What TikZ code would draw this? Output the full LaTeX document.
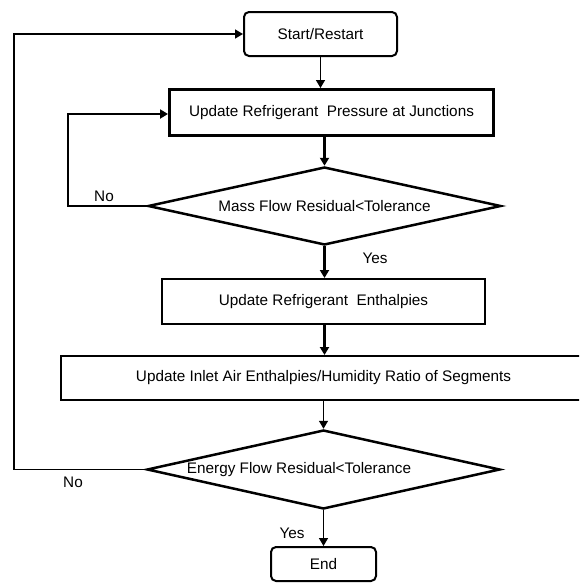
\documentclass[tikz,border=0pt]{standalone}
\usepackage{fontspec}
\setmainfont{Liberation Sans}
\usetikzlibrary{shapes.geometric,arrows.meta}
\tikzset{
  base/.style={draw, inner sep=0pt, align=center, font=\fontsize{15.3}{18}\selectfont},
  term/.style={base, rectangle, rounded corners=5pt, line width=2pt},
  procbox/.style={base, rectangle, line width=2pt},
  decision/.style={base, diamond, aspect=4.5, line width=2.5pt},
  lbl/.style={inner sep=0pt, font=\fontsize{15.3}{18}\selectfont},
  arr/.style={-{Triangle[length=8pt,width=9pt]}},
  thinline/.style={line width=1.5pt},
  thickline/.style={line width=2.8pt},
}
\begin{document}
\begin{tikzpicture}[x=1pt,y=-1pt]
\path[use as bounding box, clip] (0,0) rectangle (579,584);
\fill[white] (0,0) rectangle (579,584);

\node[term, minimum width=153pt, minimum height=44pt] (start) at (320.5,34) {Start/Restart};
\node[procbox, line width=3pt, minimum width=324pt, minimum height=46pt] (press) at (331.5,112.5) {Update Refrigerant\ \ Pressure at Junctions};
\node[decision, minimum width=353pt, minimum height=78pt] (d1) at (324.5,206) {Mass Flow Residual<Tolerance};
\node[procbox, minimum width=323pt, minimum height=45pt] (enth) at (323.5,301.5) {Update Refrigerant\ \ Enthalpies};
\node[procbox, minimum width=525pt, minimum height=44pt] (air) at (323.5,378) {Update Inlet Air Enthalpies/Humidity Ratio of Segments};
\node[decision, minimum width=353pt, minimum height=79pt] (d2) at (323.5,469.5) {};
\node[lbl] (d2t) at (299,469.5) {Energy Flow Residual<Tolerance};
\node[term, minimum width=105pt, minimum height=34pt] (end) at (323.5,564) {End};

\node[lbl] (no1) at (104,196) {No};
\node[lbl] (yes1) at (375,258) {Yes};
\node[lbl] (no2) at (73,482) {No};
\node[lbl] (yes2) at (292,533) {Yes};

\coordinate (innerx) at (68,0);
\coordinate (outerx) at (14,0);

\draw[arr, thinline] (start.south) -- (start.south |- press.north);
\draw[arr, thickline] (d1.north |- press.south) -- (d1.north);
\draw[arr, thickline] (d1.south) -- (d1.south |- enth.north);
\draw[arr, thickline] (d1.south |- enth.south) -- (d1.south |- air.north);
\draw[arr, thinline] (d2.north |- air.south) -- (d2.north);
\draw[arr, thinline] (d2.south) -- (d2.south |- end.north);

\draw[arr, thickline] (d1.west) -- (d1.west -| innerx) |- ([yshift=-1.5pt]press.west);
\draw[arr, thinline] (d2.west) -- (d2.west -| outerx) |- (start.west);
\end{tikzpicture}
\end{document}
